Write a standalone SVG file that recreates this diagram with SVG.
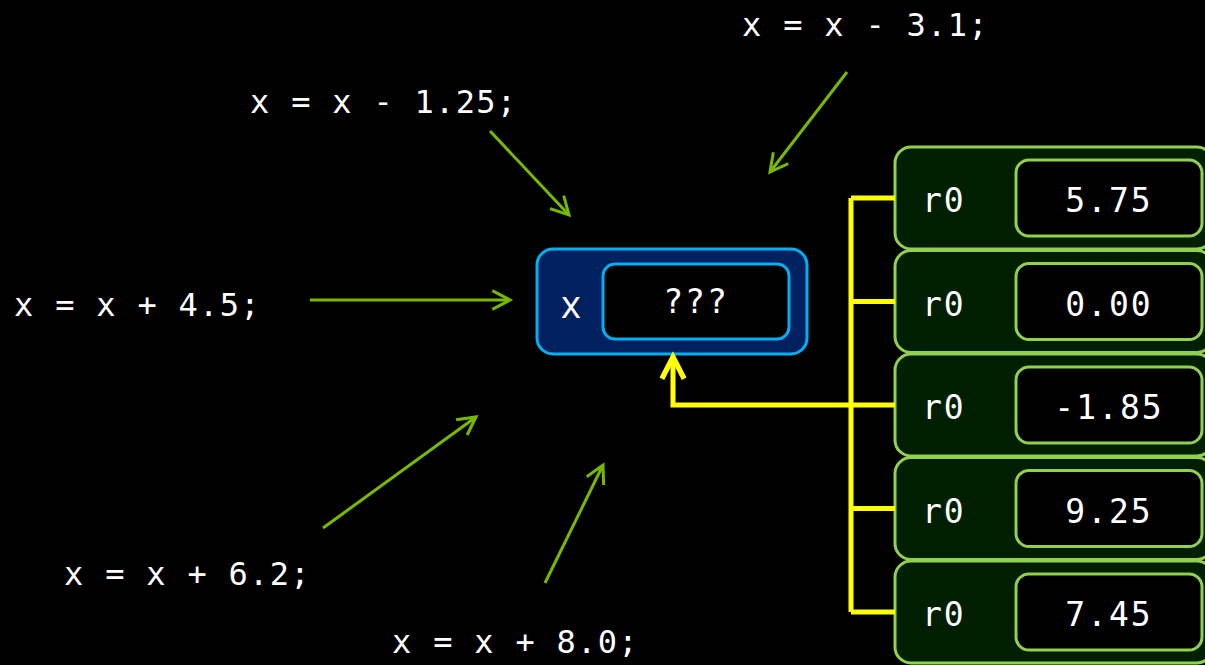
<svg xmlns="http://www.w3.org/2000/svg" width="1205" height="665" viewBox="0 0 1205 665">
  <style>
    .code { font-family: "DejaVu Sans Mono", "Liberation Mono", monospace; font-size: 32px; fill: #ffffff; letter-spacing: 1.3px; }
    .val { font-family: "DejaVu Sans Mono", "Liberation Mono", monospace; font-size: 33px; fill: #ffffff; text-anchor: middle; letter-spacing: 2px; }
    .reg { font-family: "DejaVu Sans Mono", "Liberation Mono", monospace; font-size: 33px; fill: #ffffff; letter-spacing: 2px; }
    .var-outer { fill: #002060; stroke: #00b0f0; stroke-width: 3; }
    .var-inner { fill: #000000; stroke: #00b0f0; stroke-width: 3; }
    .reg-outer { fill: #001f00; stroke: #92d050; stroke-width: 3; }
    .reg-inner { fill: #000000; stroke: #92d050; stroke-width: 3; }
    .write { fill: none; stroke: #76b900; stroke-width: 3; marker-end: url(#greenHead); }
    .bus { fill: none; stroke: #ffff00; stroke-width: 5; }
  </style>
  <defs>
    <marker id="greenHead" markerUnits="userSpaceOnUse" markerWidth="30" markerHeight="30" refX="0" refY="0" viewBox="-22 -15 26 30" orient="auto">
      <path d="M-17.7,-9.4 L0,0 L-17.7,9.4" fill="none" stroke="#76b900" stroke-width="3"/>
    </marker>
    <marker id="yellowHead" markerUnits="userSpaceOnUse" markerWidth="34" markerHeight="34" refX="0" refY="0" viewBox="-25 -16 30 32" orient="auto">
      <path d="M-20.5,-10.5 L0,0 L-20.5,10.5" fill="none" stroke="#ffff00" stroke-width="5"/>
    </marker>
  </defs>

  <rect x="0" y="0" width="1205" height="665" fill="#000000"/>

  <!-- assignment statements -->
  <g id="stmt-sub-3-1"><text class="code" x="742" y="36">x = x - 3.1;</text></g>
  <g id="stmt-sub-1-25"><text class="code" x="250" y="113">x = x - 1.25;</text></g>
  <g id="stmt-add-4-5"><text class="code" x="14" y="316">x = x + 4.5;</text></g>
  <g id="stmt-add-6-2"><text class="code" x="64" y="585">x = x + 6.2;</text></g>
  <g id="stmt-add-8-0"><text class="code" x="392" y="653">x = x + 8.0;</text></g>

  <!-- shared variable x -->
  <g id="var-x">
    <rect class="var-outer" x="537" y="249" width="270" height="105" rx="16"/>
    <rect class="var-inner" x="603" y="264" width="186" height="75" rx="12"/>
    <text x="561" y="318" font-family="'Open Sans', 'DejaVu Sans', sans-serif" font-size="38" fill="#ffffff">x</text>
    <text class="val" x="696" y="313" letter-spacing="5">???</text>
  </g>

  <!-- registers -->
  <g id="reg-0">
    <rect class="reg-outer" x="895" y="147" width="318" height="102" rx="16"/>
    <rect class="reg-inner" x="1016" y="160" width="186" height="76" rx="13"/>
    <text class="reg" x="922" y="212">r0</text>
    <text class="val" x="1109" y="212">5.75</text>
  </g>
  <g id="reg-1">
    <rect class="reg-outer" x="895" y="250.5" width="318" height="102" rx="16"/>
    <rect class="reg-inner" x="1016" y="263.5" width="186" height="76" rx="13"/>
    <text class="reg" x="922" y="315.5">r0</text>
    <text class="val" x="1109" y="315.5">0.00</text>
  </g>
  <g id="reg-2">
    <rect class="reg-outer" x="895" y="354" width="318" height="102" rx="16"/>
    <rect class="reg-inner" x="1016" y="367" width="186" height="76" rx="13"/>
    <text class="reg" x="922" y="419">r0</text>
    <text class="val" x="1109" y="419">-1.85</text>
  </g>
  <g id="reg-3">
    <rect class="reg-outer" x="895" y="457.5" width="318" height="102" rx="16"/>
    <rect class="reg-inner" x="1016" y="470.5" width="186" height="76" rx="13"/>
    <text class="reg" x="922" y="522.5">r0</text>
    <text class="val" x="1109" y="522.5">9.25</text>
  </g>
  <g id="reg-4">
    <rect class="reg-outer" x="895" y="561" width="318" height="102" rx="16"/>
    <rect class="reg-inner" x="1016" y="574" width="186" height="76" rx="13"/>
    <text class="reg" x="922" y="626">r0</text>
    <text class="val" x="1109" y="626">7.45</text>
  </g>

  <!-- connectors -->
  <g id="connectors">
    <line class="write" x1="490" y1="131" x2="569" y2="215"/>
    <line class="write" x1="847" y1="72" x2="770" y2="172"/>
    <line class="write" x1="310" y1="300" x2="510" y2="300"/>
    <line class="write" x1="323" y1="528" x2="476" y2="417"/>
    <line class="write" x1="545" y1="583" x2="603" y2="465"/>

    <path class="bus" d="M851,198 V612 M851,198 H895 M851,301.5 H895 M851,508.5 H895 M851,612 H895"/>
    <path class="bus" d="M895,405 H673 V357" marker-end="url(#yellowHead)"/>
  </g>
</svg>
